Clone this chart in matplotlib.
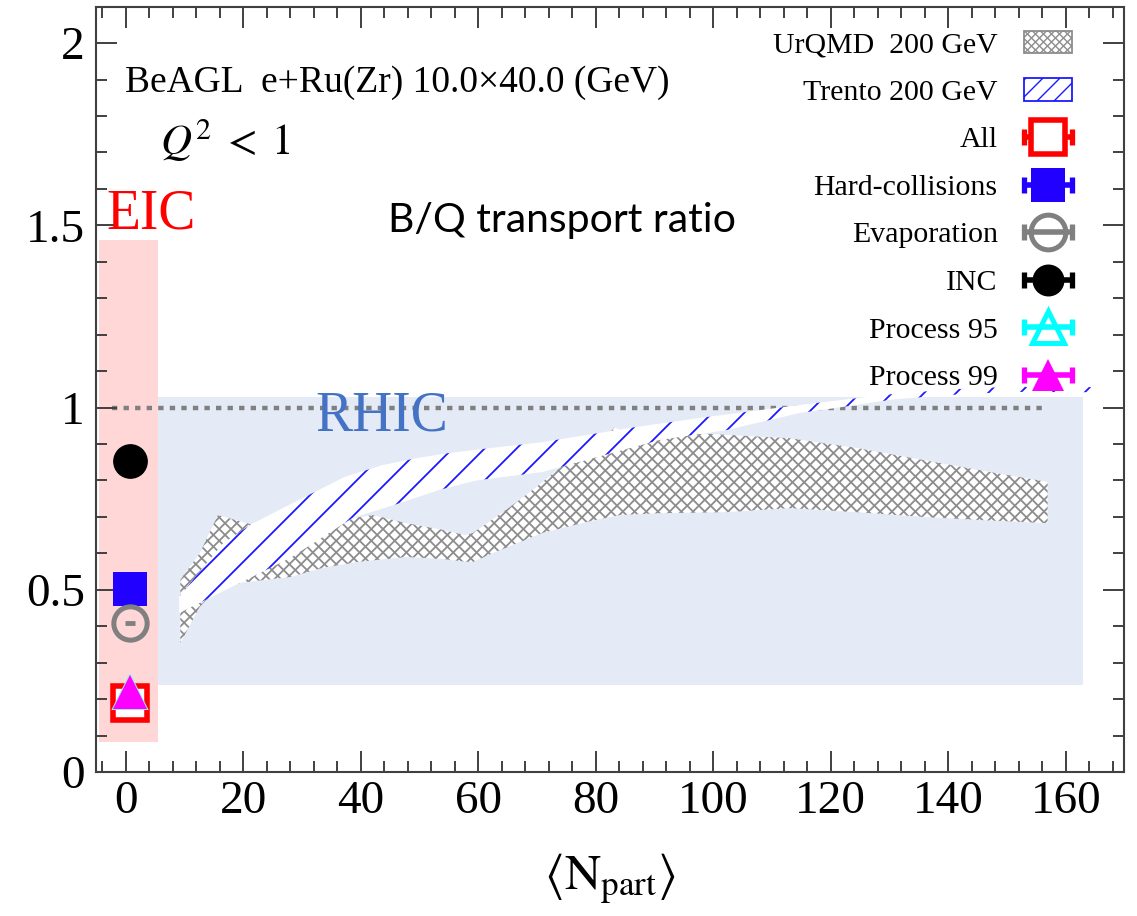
import numpy as np
import matplotlib
matplotlib.use('Agg')
import matplotlib.pyplot as plt
from matplotlib.collections import LineCollection
from matplotlib.patches import Rectangle
from matplotlib.ticker import MultipleLocator

plt.rcParams['font.family'] = ['Liberation Serif', 'DejaVu Serif']
plt.rcParams['mathtext.fontset'] = 'stix'

# UrQMD 200 GeV band (upper / lower edge)
urqmd_up_x = [9.3, 12.6, 15.7, 21.6, 28.5, 36.5, 42.0, 47.7, 53.7, 57.8, 59.1, 61.8, 65.4, 69.9,
              75.1, 79.5, 83.2, 84.6, 86.3, 91.1, 96.5, 102.2, 107.9, 113.0, 124.4, 135.7, 147.1, 156.9]
urqmd_up_y = [0.527, 0.60, 0.705, 0.678, 0.68, 0.69, 0.705, 0.683, 0.665, 0.65, 0.656, 0.686, 0.727, 0.782,
              0.85, 0.87, 0.947, 0.933, 0.944, 0.935, 0.93, 0.925, 0.92, 0.916, 0.889, 0.856, 0.823, 0.796]
urqmd_lo_x = [9.3, 12.6, 15.4, 19.9, 28.0, 33.5, 39.3, 47.7, 53.7, 57.8, 59.1, 62.4, 70.9, 79.5,
              84.1, 90.9, 102.2, 113.0, 124.4, 135.7, 147.1, 156.9]
urqmd_lo_y = [0.354, 0.453, 0.50, 0.52, 0.535, 0.56, 0.576, 0.59, 0.585, 0.577, 0.576, 0.60, 0.656, 0.69,
              0.705, 0.71, 0.713, 0.724, 0.713, 0.70, 0.69, 0.683]

# Trento 200 GeV band
trento_up_x = [9.1, 12.6, 16.6, 21.4, 27.1, 37.3, 43.7, 49.5, 54.9, 60.6, 70.9, 87.0, 98.9, 114.7,
               121.4, 130.5, 140.6, 150.7, 165.4]
trento_up_y = [0.48, 0.55, 0.628, 0.68, 0.727, 0.81, 0.842, 0.861, 0.875, 0.886, 0.905, 0.947, 0.974, 1.007,
               1.02, 1.037, 1.05, 1.057, 1.056]
trento_lo_x = [9.1, 17.7, 28.0, 38.6, 46.7, 53.4, 59.7, 70.9, 90.9, 102.2, 114.7, 121.4, 130.5, 140.6,
               150.7, 165.4]
trento_lo_y = [0.436, 0.505, 0.587, 0.697, 0.738, 0.774, 0.80, 0.823, 0.911, 0.938, 0.985, 1.0, 1.022, 1.035,
               1.043, 1.042]

# BeAGL e+Ru(Zr) points
eic_labels = ['All', 'Hard-collisions', 'Evaporation', 'INC', 'Process 95', 'Process 99']
eic_npart = [0.7, 0.7, 0.7, 0.7, 0.7, 0.7]
eic_ratio = [0.19, 0.502, 0.41, 0.853, 0.22, 0.22]

# shaded regions and reference line
eic_xrange = [-4.5, 5.5]
eic_yrange = [0.082, 1.46]
rhic_xrange = [5.5, 162.9]
rhic_yrange = [0.239, 1.029]
unity_x = [-2.3, 156.1]
unity_y = [1.0, 1.0]

W, H = 1137, 916
fig = plt.figure(figsize=(W / 100, H / 100), dpi=100)
ax = fig.add_axes([96 / W, 144 / H, 1028 / W, 765 / H])
ax.set_xlim(-5.05, 169.9)
ax.set_ylim(0, 2.099)


def hatch(patch, step, slopes, color, lw, z):
    # hand-made hatch so the line spacing can be set in pixels
    pts = patch.get_verts()
    xmin, ymin = pts.min(axis=0)
    xmax, ymax = pts.max(axis=0)
    h = ymax - ymin
    inv = ax.transData.inverted()
    segs = []
    for s in slopes:
        start = np.floor((xmin - h) / step) * step
        for c in np.arange(start, xmax + h, step):
            if s > 0:
                seg = [(c, ymin), (c + h, ymax)]
            else:
                seg = [(c, ymax), (c + h, ymin)]
            segs.append(inv.transform(seg))
    lc = LineCollection(segs, colors=color, linewidths=lw, zorder=z)
    ax.add_collection(lc, autolim=False)
    lc.set_clip_path(patch)


# backgrounds
ax.add_patch(Rectangle((eic_xrange[0], eic_yrange[0]), eic_xrange[1] - eic_xrange[0],
                       eic_yrange[1] - eic_yrange[0], facecolor='#FFD7D7', edgecolor='none', zorder=0))
ax.add_patch(Rectangle((rhic_xrange[0], rhic_yrange[0]), rhic_xrange[1] - rhic_xrange[0],
                       rhic_yrange[1] - rhic_yrange[0], facecolor='#E4EAF6', edgecolor='none', zorder=0))
ax.plot(unity_x, unity_y, color='#808080', lw=3.2, dashes=(1.2, 1.4), zorder=1)

# UrQMD band
ux = np.concatenate([urqmd_up_x, urqmd_lo_x[::-1]])
uy = np.concatenate([urqmd_up_y, urqmd_lo_y[::-1]])
pu = ax.fill(ux, uy, facecolor='white', edgecolor='none', zorder=2)[0]
hatch(pu, 11.7, [1, -1], '#8c8c8c', 1.3, 2.1)

# Trento band
tx = np.concatenate([trento_up_x, trento_lo_x[::-1]])
ty = np.concatenate([trento_up_y, trento_lo_y[::-1]])
pt = ax.fill(tx, ty, facecolor='white', edgecolor='none', zorder=3)[0]
hatch(pt, 32, [1], '#1a1aff', 1.3, 3.1)

# EIC points
ax.plot(eic_npart[3], eic_ratio[3], 'o', color='black', ms=24, zorder=5)
ax.plot(eic_npart[1], eic_ratio[1], 's', color='#2200ff', ms=25, mew=0, zorder=5)
ax.plot(eic_npart[2], eic_ratio[2], 'o', mfc='none', mec='#808080', ms=24, mew=3.6, zorder=5)
ax.plot(eic_npart[2], eic_ratio[2], '_', color='#808080', ms=7, mew=3.5, zorder=5)
ax.plot(eic_npart[0], eic_ratio[0], 's', mfc='white', mec='red', ms=25, mew=4, zorder=5)
ax.plot(eic_npart[4], eic_ratio[4], '^', mfc='none', mec='#9ee6ee', ms=25, mew=1.5, zorder=6)
ax.plot(eic_npart[5], eic_ratio[5], '^', color='magenta', ms=24, mew=0, zorder=6)

# legend (drawn by hand, ROOT style)
leg_text_x = 148.4
leg_cx = 157.0
leg_x0, leg_x1 = 152.5, 161.5
row_y = [2.003 - i * 0.1305 for i in range(8)]
leg_labels = ['UrQMD  200 GeV', 'Trento 200 GeV'] + eic_labels
for lab, y in zip(leg_labels, row_y):
    ax.text(leg_text_x, y - 0.028, lab, ha='right', va='baseline', fontsize=21.5, zorder=7)

bw, bh = 8.2, 0.063
b1 = Rectangle((leg_cx - bw / 2, row_y[0] - bh / 2), bw, bh, facecolor='white', edgecolor='#8c8c8c', lw=1.3, zorder=7)
ax.add_patch(b1)
hatch(b1, 8, [1, -1], '#8c8c8c', 1.0, 7.1)
b2 = Rectangle((leg_cx - bw / 2, row_y[1] - bh / 2), bw, bh, facecolor='white', edgecolor='#1a1aff', lw=1.3, zorder=7)
ax.add_patch(b2)
hatch(b2, 17, [1], '#1a1aff', 1.0, 7.1)

styles = [dict(marker='s', mfc='white', mec='red', ms=25, mew=4, c='red'),
          dict(marker='s', mfc='#2200ff', mec='#2200ff', ms=24, mew=0, c='#2200ff'),
          dict(marker='o', mfc='none', mec='#808080', ms=25, mew=3.6, c='#808080'),
          dict(marker='o', mfc='black', mec='black', ms=23, mew=0, c='black'),
          dict(marker='^', mfc='none', mec='cyan', ms=23, mew=3.6, c='cyan'),
          dict(marker='^', mfc='magenta', mec='magenta', ms=23, mew=0, c='magenta')]
for st, y in zip(styles, row_y[2:]):
    c = st.pop('c')
    ax.plot([leg_x0, leg_x1], [y, y], color=c, lw=4, solid_capstyle='butt', zorder=7)
    ax.plot([leg_x0 + 0.4, leg_x1 - 0.4], [y, y], ls='none', marker='|', ms=11, mew=3.8, color=c, zorder=7)
    ax.plot([leg_cx], [y], ls='none', zorder=8, **st)

# labels
ax.text(-0.1, 1.866, 'BeAGL  e+Ru(Zr) 10.0×40.0 (GeV)', fontsize=27, va='baseline')
ax.text(5.8, 1.693, r'$Q^{2}\;<\;1$', fontsize=31, va='baseline')
ax.text(-3.2, 1.492, 'EIC', color='red', fontsize=40, va='baseline', zorder=7)
ax.text(32.2, 0.938, 'RHIC', color='#4472C4', fontsize=40, va='baseline', zorder=1)
ax.text(44.6, 1.481, 'B/Q transport ratio', fontsize=29.5, va='baseline', family=['Lato', 'DejaVu Sans'])

ax.set_xlabel(r'$\langle\mathrm{N}_{\mathrm{part}}\rangle$', fontsize=36, labelpad=20)

ax.xaxis.set_major_locator(MultipleLocator(20))
ax.xaxis.set_minor_locator(MultipleLocator(4))
ax.yaxis.set_major_locator(MultipleLocator(0.5))
ax.yaxis.set_minor_locator(MultipleLocator(0.1))
ax.set_yticks([0, 0.5, 1, 1.5, 2])
ax.set_yticklabels(['0', '0.5', '1', '1.5', '2'])
ax.tick_params(which='both', direction='in', top=True, right=True, colors='#404040',
               labelcolor='black', labelsize=34, width=1.4)
ax.tick_params(which='major', length=15)
ax.tick_params(which='minor', length=8)
ax.tick_params(axis='y', pad=8)
ax.tick_params(axis='x', pad=6)
for sp in ax.spines.values():
    sp.set_color('#404040')
    sp.set_linewidth(1.5)

fig.savefig('out.png', dpi=100)
